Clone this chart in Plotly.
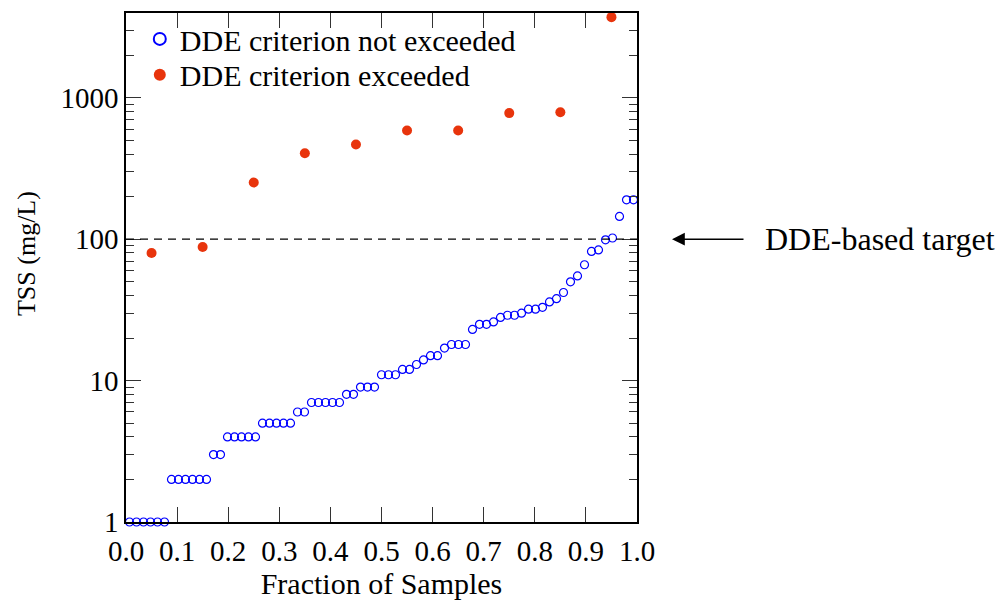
import plotly.graph_objects as go

# TSS (mg/L) of samples that stay under the DDE criterion, sorted ascending
tss_below = [1, 1, 1, 1, 1, 1,
             2, 2, 2, 2, 2, 2,
             3, 3,
             4, 4, 4, 4, 4,
             5, 5, 5, 5, 5,
             6, 6,
             7, 7, 7, 7, 7,
             8, 8,
             9, 9, 9,
             11, 11, 11,
             12, 12, 13, 14, 15, 15, 17, 18, 18, 18,
             23, 25, 25, 26, 28, 29, 29, 30, 32, 32, 33, 36, 38, 42,
             50, 55, 66, 82, 84, 99, 102, 145, 190, 190]

# samples exceeding the DDE criterion
frac_above = [0.05, 0.15, 0.25, 0.35, 0.45, 0.55, 0.65, 0.75, 0.85, 0.95]
tss_above = [80, 88, 252, 405, 468, 588, 588, 780, 790, 3720]

target_tss = 100
x_ticks = [0.0, 0.1, 0.2, 0.3, 0.4, 0.5, 0.6, 0.7, 0.8, 0.9, 1.0]
y_ticks = [1, 10, 100, 1000]

# plotting position of each ranked sample
n_below = len(tss_below)
frac_below = [(k + 0.5) / n_below for k in range(n_below)]

minor_vals = [m * d for d in (1, 10, 100, 1000) for m in range(2, 10) if m * d < 4000]

FONT = "Liberation Serif"

fig = go.Figure()
fig.add_trace(go.Scatter(
    x=frac_below, y=tss_below, mode="markers", name="DDE criterion not exceeded",
    marker=dict(symbol="circle-open", size=8, color="#0000ff", line=dict(width=1.2, color="#0000ff")),
    cliponaxis=False, legend="legend",
))
fig.add_trace(go.Scatter(
    x=frac_above, y=tss_above, mode="markers", name="DDE criterion exceeded",
    marker=dict(symbol="circle", size=10, color="#e8340c"),
    cliponaxis=False, legend="legend2",
))

# dashed target line
fig.add_shape(type="line", xref="x", yref="y", x0=0, x1=1, y0=target_tss, y1=target_tss,
              line=dict(color="black", width=1.3, dash="8px,6px"))

# arrow + label pointing at the target line
fig.add_annotation(
    xref="paper", yref="y", x=(672 - 126) / 511, y=2,
    ax=(745 - 672), ay=0, text="", showarrow=True,
    arrowhead=2, arrowsize=1.6, arrowwidth=1.6, arrowcolor="black",
)
fig.add_annotation(
    xref="paper", yref="y", x=(763 - 126) / 511, y=2, xanchor="left", yanchor="middle",
    text="DDE-based target", showarrow=False, font=dict(family=FONT, size=32, color="black"),
)

# vertical axis title
fig.add_annotation(
    xref="paper", yref="paper", x=(26 - 126) / 511, y=(522 - 253) / 511,
    xanchor="center", yanchor="middle", textangle=-90,
    text="TSS (mg/L)", showarrow=False, font=dict(family=FONT, size=26, color="black"),
)

axis_common = dict(
    showline=True, linecolor="black", linewidth=1.5, mirror="ticks",
    ticks="inside", ticklen=15, tickwidth=1.2, tickcolor="#333333",
    showgrid=False, zeroline=False,
    tickfont=dict(family=FONT, size=29, color="black"),
)

legend_common = dict(xanchor="left", yanchor="middle", bgcolor="rgba(0,0,0,0)",
                     font=dict(family=FONT, size=30, color="black"),
                     itemsizing="constant", tracegroupgap=0)

fig.update_layout(
    width=1002, height=603,
    margin=dict(l=126, r=365, t=11, b=81),
    paper_bgcolor="white", plot_bgcolor="white",
    font=dict(family=FONT, size=29, color="black"),
    showlegend=True,
    legend=dict(x=0.027, y=(522 - 37) / 511, **legend_common),
    legend2=dict(x=0.027, y=(522 - 73) / 511, **legend_common),
    xaxis=dict(range=[0, 1], tickvals=x_ticks, tickformat=".1f", ticklabelstandoff=2,
               title=dict(text="Fraction of Samples", font=dict(family=FONT, size=30), standoff=4),
               **axis_common),
    yaxis=dict(type="log", range=[0, 3.6], tickvals=y_ticks, ticktext=[str(v) for v in y_ticks],
               minor=dict(tickvals=minor_vals, ticks="inside", ticklen=8, tickwidth=1.2,
                          tickcolor="#333333", showgrid=False),
               **axis_common),
)

fig.write_html("out.html")
